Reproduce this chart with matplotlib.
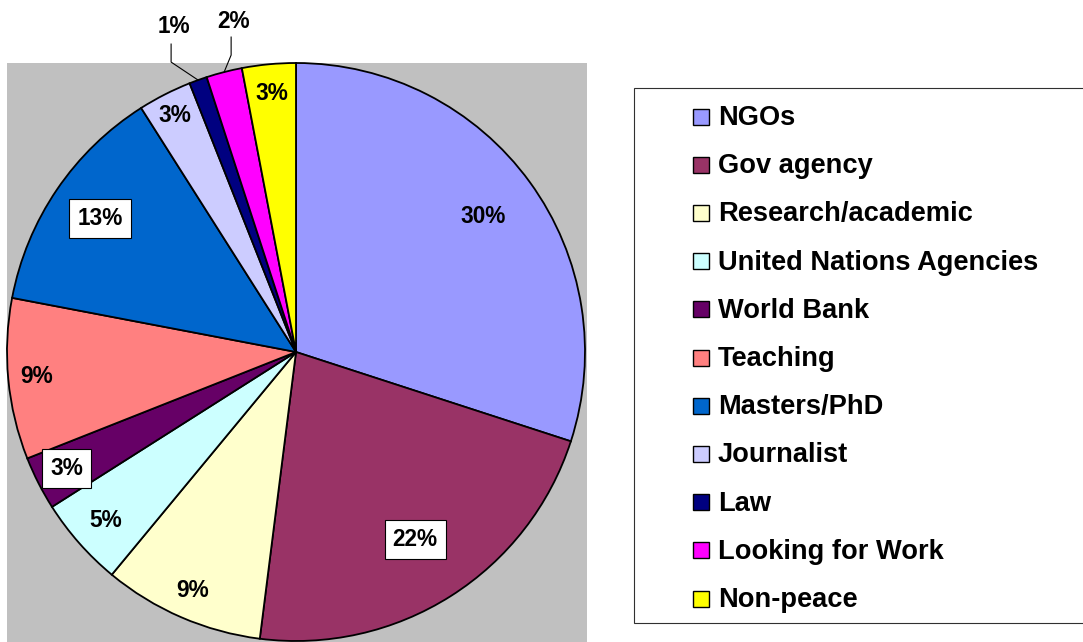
import numpy as np
import matplotlib
matplotlib.use('Agg')
import matplotlib.pyplot as plt
from matplotlib.patches import Rectangle

plt.rcParams['font.family'] = ['Liberation Sans', 'DejaVu Sans']
plt.rcParams['font.weight'] = 'bold'

categories = ['NGOs', 'Gov agency', 'Research/academic', 'United Nations Agencies',
              'World Bank', 'Teaching', 'Masters/PhD', 'Journalist', 'Law',
              'Looking for Work', 'Non-peace']
shares = [30, 22, 9, 5, 3, 9, 13, 3, 1, 2, 3]
colors = ['#9999FF', '#993366', '#FFFFCC', '#CCFFFF', '#660066', '#FF8080',
          '#0066CC', '#CCCCFF', '#000080', '#FF00FF', '#FFFF00']

# label placement (fraction of radius), boxed labels, outside labels w/ leader
lab_r = [0.80, 0.77, 0.90, 0.88, 0.89, 0.90, 0.82, 0.92, 1.0, 1.0, 0.90]
boxed = [False, True, False, False, True, False, True, False, False, False, False]
# leader offsets (px) from wedge edge point: elbow, text centre
leader = {8: ((-27, 18), (-24, 54)), 9: ((7, 17), (9, 51))}

W, H = 1083, 642
fig = plt.figure(figsize=(W / 100, H / 100), dpi=100)
ax = fig.add_axes([0, 0, 1, 1])

cx, cy, R = 296, H - 352, 289
ax.add_patch(Rectangle((7, 0), 580, H - 63, fc='#C0C0C0', ec='none', zorder=0))

wedges, _ = ax.pie(shares, colors=colors, startangle=90, counterclock=False,
                   radius=R, center=(cx, cy), frame=True,
                   wedgeprops=dict(ec='black', lw=1.3))
ax.set_xlim(0, W)
ax.set_ylim(0, H)
ax.axis('off')

for i, w in enumerate(wedges):
    mid = np.deg2rad((w.theta1 + w.theta2) / 2)
    txt = '{}%'.format(shares[i])
    if i in leader:
        ex, ey = cx + R * np.cos(mid), cy + R * np.sin(mid)
        (elx, ely), (tx, ty) = leader[i]
        ax.plot([ex, ex + elx, ex + elx], [ey, ey + ely, ey + ely + 18],
                color='black', lw=0.8, zorder=5)
        ax.text(ex + tx, ey + ty, txt, fontsize=16.3, ha='center', va='center')
        continue
    x = cx + lab_r[i] * R * np.cos(mid)
    y = cy + lab_r[i] * R * np.sin(mid)
    bb = None
    if boxed[i]:
        bb = dict(boxstyle='square,pad=0.35', fc='white', ec='black', lw=0.8)
    ax.text(x, y, txt, fontsize=16.3, ha='center', va='center', bbox=bb, zorder=6)

# legend
ax.add_patch(Rectangle((634, H - 623), 455, 535, fc='white', ec='#303030', lw=0.8))
for i, (c, lab) in enumerate(zip(colors, categories)):
    yc = H - (116.5 + 48.2 * i)
    ax.add_patch(Rectangle((693, yc - 8), 16, 16, fc=c, ec='black', lw=1.0))
    ax.text(718, yc - 8.5, lab, fontsize=19.6, ha='left', va='baseline')

fig.savefig('out.png', dpi=100)
